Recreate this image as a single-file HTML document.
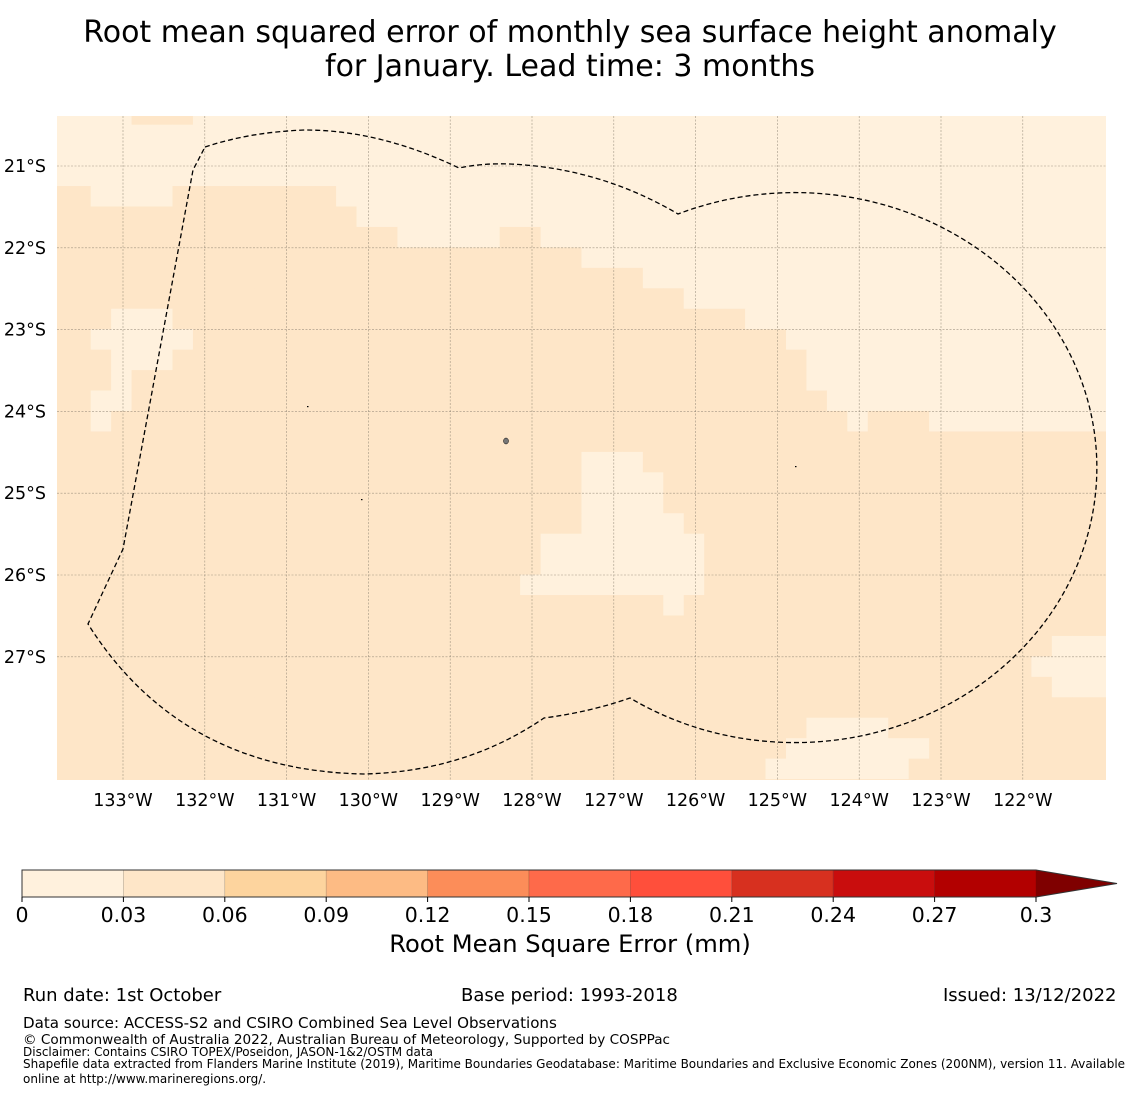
<!DOCTYPE html>
<html><head><meta charset="utf-8">
<style>
html,body{margin:0;padding:0;background:#fff;}
body{width:1140px;height:1095px;position:relative;overflow:hidden;font-family:"DejaVu Sans","Liberation Sans",sans-serif;color:#000;}
.t{position:absolute;white-space:nowrap;}
</style></head>
<body>
<div class="t" style="left:0;width:1140px;top:16px;text-align:center;font-size:30px;line-height:34px;">Root mean squared error of monthly sea surface height anomaly<br>for January. Lead time: 3 months</div>
<svg id="map" width="1140" height="1095" style="position:absolute;left:0;top:0;"></svg>
<div class="t" style="left:0;width:1140px;text-align:center;top:930px;font-size:24.2px;">Root Mean Square Error (mm)</div>
<div class="t" style="left:23px;top:985px;font-size:18px;">Run date: 1st October</div>
<div class="t" style="left:461px;top:985px;font-size:18px;">Base period: 1993-2018</div>
<div class="t" style="left:943px;top:985px;font-size:18px;">Issued: 13/12/2022</div>
<div class="t" style="left:23px;top:1014px;font-size:15.1px;">Data source: ACCESS-S2 and CSIRO Combined Sea Level Observations</div>
<div class="t" style="left:23px;top:1032px;font-size:13.6px;">© Commonwealth of Australia 2022, Australian Bureau of Meteorology, Supported by COSPPac</div>
<div class="t" style="left:23px;top:1045px;font-size:12px;">Disclaimer: Contains CSIRO TOPEX/Poseidon, JASON-1&amp;2/OSTM data</div>
<div class="t" style="left:23px;top:1057px;font-size:12px;line-height:15px;">Shapefile data extracted from Flanders Marine Institute (2019), Maritime Boundaries Geodatabase: Maritime Boundaries and Exclusive Economic Zones (200NM), version 11. Available<br>online at http://www.marineregions.org/.</div>
<script>
// ---- data ----
const lonTicks = [-133,-132,-131,-130,-129,-128,-127,-126,-125,-124,-123,-122];
const latTicks = [-21,-22,-23,-24,-25,-26,-27];
const cbTicks = [0,0.03,0.06,0.09,0.12,0.15,0.18,0.21,0.24,0.27,0.3];
const cbColors = ["#fff1dd","#fee6c8","#fdd49e","#fdbb84","#fc8d59","#fe6a4a","#ff4f3b","#d7301f","#c90d0d","#b20000"];
const gridLon0 = -133.895; // west edge of cell column 0
const gridLat0 = -20.245;  // north edge of cell row 0
const cellDeg = 0.25;
const nCols = 52;
const lightValue = 0.02;
const darkValue = 0.045;
// per-row runs of cells with RMSE in 0.03-0.06 (others < 0.03)
const darkRuns = [
 [[4,6]],[],[],[],
 [[0,1],[6,13]],
 [[0,14]],
 [[0,16],[22,23]],
 [[0,25]],
 [[0,28]],
 [[0,30]],
 [[0,2],[6,33]],
 [[0,1],[7,35]],
 [[0,2],[6,36]],
 [[0,2],[4,36]],
 [[0,1],[4,37]],
 [[0,1],[3,38],[40,42]],
 [[0,51]],
 [[0,25],[29,51]],
 [[0,25],[30,51]],
 [[0,25],[30,51]],
 [[0,25],[31,51]],
 [[0,23],[32,51]],
 [[0,23],[32,51]],
 [[0,22],[32,51]],
 [[0,29],[31,51]],
 [[0,51]],
 [[0,48]],
 [[0,47]],
 [[0,48]],
 [[0,51]],
 [[0,36],[41,51]],
 [[0,35],[43,51]],
 [[0,34],[42,51]],
 [[0,51]]
];
// ---- scales ----
const MAP = {x0:57,x1:1106,y0:116,y1:780};
const pxPerDeg = 81.8;
function xLon(lon){return 123 + (lon+133)*pxPerDeg;}
function yLat(lat){return 166 - (lat+21)*pxPerDeg;}
function colorFor(v){let i=Math.min(cbColors.length-1,Math.floor(v/0.03));return cbColors[i];}
const CB = {x0:22,x1:1036,y0:870,y1:897};
function xCb(v){return CB.x0 + (v/0.3)*(CB.x1-CB.x0);}

const NS='http://www.w3.org/2000/svg';
const svg=document.getElementById('map');
function mk(tag,attrs,parent){const e=document.createElementNS(NS,tag);for(const k in attrs)e.setAttribute(k,attrs[k]);(parent||svg).appendChild(e);return e;}

const defs=mk('defs',{});
const cp=mk('clipPath',{id:'mc'},defs);
mk('rect',{x:MAP.x0,y:MAP.y0,width:MAP.x1-MAP.x0,height:MAP.y1-MAP.y0},cp);
const g=mk('g',{'clip-path':'url(#mc)'});



darkRuns.forEach((runs,r)=>{
  for(let c=0;c<nCols;c++){
    let v=lightValue;
    runs.forEach(([a,b])=>{if(c>=a&&c<=b)v=darkValue;});
    const lonW=gridLon0+c*cellDeg, latN=gridLat0-r*cellDeg;
    const x=xLon(lonW), y=yLat(latN);
    const w=xLon(lonW+cellDeg)-x, h=yLat(latN-cellDeg)-y;
    const cell=mk('rect',{x:x.toFixed(2),y:y.toFixed(2),width:(w+0.4).toFixed(2),height:(h+0.4).toFixed(2),fill:colorFor(v)},g);
    
    
  }
});

// gridlines
lonTicks.forEach(l=>{
  const x=xLon(l);
  const ln=mk('line',{x1:x,x2:x,y1:MAP.y0,y2:MAP.y1,stroke:'#8a8070','stroke-width':0.6,'stroke-dasharray':'2,1.5',opacity:0.8});
  
  
  const t=mk('text',{x:x,y:806,'text-anchor':'middle','font-size':17.5,'font-family':'DejaVu Sans, Liberation Sans, sans-serif'});
  t.textContent=Math.abs(l)+'°W';
  
  
});
latTicks.forEach(l=>{
  const y=yLat(l);
  const ln=mk('line',{x1:MAP.x0,x2:MAP.x1,y1:y,y2:y,stroke:'#8a8070','stroke-width':0.6,'stroke-dasharray':'2,1.5',opacity:0.8});
  
  
  const t=mk('text',{x:46,y:y+6,'text-anchor':'end','font-size':17.5,'font-family':'DejaVu Sans, Liberation Sans, sans-serif'});
  t.textContent=Math.abs(l)+'°S';
  
  
});

// EEZ boundary
const eez=mk('path',{d:'M205,147 Q250,132 305,130 Q380,130 459,168 Q482,163 510,164 Q600,168 678,214 A302,275 0 1 1 630,698 Q590,712 544,718 Q465,772 363,774 Q180,770 88,624 L123,549 L193,170 Z',fill:'none',stroke:'#000','stroke-width':1.3,'stroke-dasharray':'5,3'});


const isl=mk('ellipse',{cx:506,cy:441,rx:2.5,ry:3,fill:'#777',stroke:'#000','stroke-width':0.5});


[[307,406],[361,499],[795,466]].forEach(p=>{const d=mk('rect',{x:p[0],y:p[1],width:1.5,height:1.2,fill:'#000'});});

// colorbar
cbColors.forEach((c,i)=>{
  const x=xCb(cbTicks[i]), w=xCb(cbTicks[i+1])-x;
  const r=mk('rect',{x:x,y:CB.y0,width:w,height:CB.y1-CB.y0,fill:c,stroke:'rgba(0,0,0,0.2)','stroke-width':0.6});
  
  
});
const arr=mk('polygon',{points:`${CB.x1},${CB.y0} 1117,${(CB.y0+CB.y1)/2} ${CB.x1},${CB.y1}`,fill:'#7f0000'});


const ob=mk('polygon',{points:`${CB.x0},${CB.y0} ${CB.x1},${CB.y0} 1117,${(CB.y0+CB.y1)/2} ${CB.x1},${CB.y1} ${CB.x0},${CB.y1}`,fill:'none',stroke:'#333','stroke-width':1});


cbTicks.forEach(v=>{
  const x=xCb(v);
  const tk=mk('line',{x1:x,x2:x,y1:CB.y1,y2:CB.y1+5,stroke:'#000','stroke-width':1});
  
  
  const t=mk('text',{x:x,y:922,'text-anchor':'middle','font-size':20.5,'font-family':'DejaVu Sans, Liberation Sans, sans-serif'});
  t.textContent=String(v);
  
  
});
</script>
</body></html>
